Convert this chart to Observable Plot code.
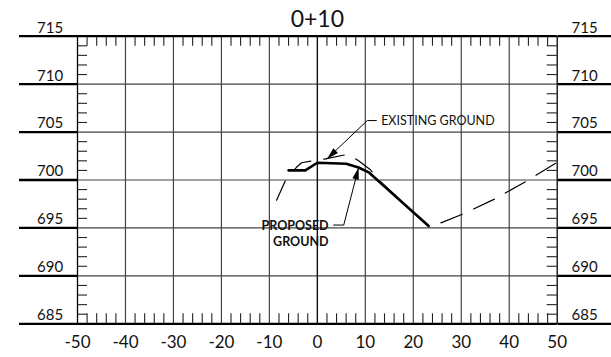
<!DOCTYPE html>
<html>
<head>
<meta charset="utf-8">
<script src="https://cdn.jsdelivr.net/npm/d3@7"></script>
<script src="https://cdn.jsdelivr.net/npm/@observablehq/plot@0.6"></script>
<style>
  html, body { margin: 0; padding: 0; background: #fff; }
  #chart svg { display: block; }
</style>
</head>
<body>
<div id="chart"></div>
<script>
// ---- data ----
const title = "0+10";
const xMajor = [-50, -40, -30, -20, -10, 0, 10, 20, 30, 40, 50];
const xLabels = ["-50", "-40", "-30", "-20", "-10", "0", "10", "20", "30", "40", "50"];
const yMajor = [685, 690, 695, 700, 705, 710, 715];
const yLabels = ["685", "690", "695", "700", "705", "710", "715"];

// proposed ground (offset, elevation)
const proposedX = [-6.0, -2.5, 0.0, 6.0, 8.6, 10.7, 23.2];
const proposedY = [701.0, 701.0, 701.8, 701.7, 701.3, 700.8, 695.2];

// existing ground (offset, elevation)
const existingX = [-8.5, -6.6, -4.4, -3.3, -1.1, 1.7, 6.5, 8.6, 11.0, 13.0, 23.3, 25.6, 30.1, 36.7, 43.3, 50.0];
const existingY = [697.9, 700.0, 701.3, 701.8, 702.0, 702.2, 702.7, 702.0, 701.1, 699.9, 695.1, 695.5, 696.4, 697.95, 699.8, 701.85];

// annotation leaders
const existingLeaderX = [12.3, 10.4, 2.0];
const existingLeaderY = [706.2, 706.2, 702.2];
const proposedLeaderX = [3.4, 5.5, 8.6];
const proposedLeaderY = [695.3, 695.3, 701.3];
const existingLabel = {x: 13.3, y: 706.2, text: "EXISTING GROUND"};
const proposedLabel = {x: 2.35, y: 694.45, text: "PROPOSED\nGROUND"};

// ---- build ----
const proposed = proposedX.map((x, i) => ({x, y: proposedY[i]}));
const existing = existingX.map((x, i) => ({x, y: existingY[i]}));
const exLeader = existingLeaderX.map((x, i) => ({x, y: existingLeaderY[i]}));
const prLeader = proposedLeaderX.map((x, i) => ({x, y: proposedLeaderY[i]}));
const xMinor = d3.range(-48, 49, 2).filter(d => d % 10 !== 0);
const yMinor = d3.range(686, 715, 1).filter(d => d % 5 !== 0);

const W = 611, H = 357;
const mL = 77, mR = 54.3, mT = 35.7, mB = 33.7;
const plotW = W - mL - mR, plotH = H - mT - mB;

function filledArrow(color, context) {
  const m = d3.create("svg:marker")
    .attr("viewBox", "-12 -4 12 8")
    .attr("markerWidth", 12)
    .attr("markerHeight", 8)
    .attr("markerUnits", "userSpaceOnUse")
    .attr("orient", "auto")
    .attr("overflow", "visible")
    .attr("fill", "black")
    .attr("stroke", "none");
  m.append("path").attr("d", "M-12,-3.3L0,0L-12,3.3Z");
  return m.node();
}

const font = "Lato, 'Open Sans', sans-serif";

const chart = Plot.plot({
  width: W, height: H,
  marginLeft: mL, marginRight: mR, marginTop: mT, marginBottom: mB,
  style: {fontFamily: font, background: "#fff", color: "black", overflow: "visible"},
  x: {domain: [-50, 50], axis: null},
  y: {domain: [685, 715], axis: null},
  marks: [
    // grid
    Plot.ruleX(xMajor.filter(d => d !== -50 && d !== 50 && d !== 0), {stroke: "#444", strokeWidth: 1.2}),
    Plot.ruleY(yMajor.filter(d => d !== 685 && d !== 715), {stroke: "#444", strokeWidth: 1.2}),
    Plot.ruleX([0], {stroke: "#111", strokeWidth: 1.4}),
    // minor inner ticks
    Plot.tickX(xMinor, {x: d => d, insetBottom: plotH - 10, stroke: "#222", strokeWidth: 1.1}),
    Plot.tickX(xMinor, {x: d => d, insetTop: plotH - 10, stroke: "#222", strokeWidth: 1.1}),
    Plot.tickY(yMinor, {y: d => d, insetRight: plotW - 10, stroke: "#222", strokeWidth: 1.1}),
    Plot.tickY(yMinor, {y: d => d, insetLeft: plotW - 10, stroke: "#222", strokeWidth: 1.1}),
    // frame
    Plot.frame({stroke: "black", strokeWidth: 1.3}),
    Plot.ruleY([685, 715], {stroke: "black", strokeWidth: 2.3}),
    // extended major lines outside the frame
    Plot.axisY(yMajor, {anchor: "left", tickSize: 58, tickFormat: () => "", label: null, stroke: "black", strokeWidth: 2.3}),
    Plot.axisY(yMajor, {anchor: "right", tickSize: 56, tickFormat: () => "", label: null, stroke: "black", strokeWidth: 2.3}),
    // y labels
    Plot.text(yMajor, {y: d => d, text: (d, i) => yLabels[i], frameAnchor: "left", dx: -14.3, textAnchor: "end", lineAnchor: "bottom", dy: -3.6, fontSize: 15, fill: "#111"}),
    Plot.text(yMajor, {y: d => d, text: (d, i) => yLabels[i], frameAnchor: "right", dx: 14.3, textAnchor: "start", lineAnchor: "bottom", dy: -3.6, fontSize: 15, fill: "#111"}),
    // x labels
    Plot.text(xMajor, {x: d => d, text: (d, i) => xLabels[i], frameAnchor: "bottom", lineAnchor: "top", dy: 12, fontSize: 17, fill: "#111"}),
    // title
    Plot.text([title], {frameAnchor: "top", lineAnchor: "bottom", dy: -9.5, fontSize: 23, fill: "#111"}),
    // existing ground (dashed)
    Plot.line(existing.filter(d => d.x <= 23.3), {x: "x", y: "y", stroke: "black", strokeWidth: 1.2, strokeDasharray: "21,13"}),
    Plot.line(existing.filter(d => d.x >= 23.3), {x: "x", y: "y", stroke: "black", strokeWidth: 1.2, strokeDasharray: "23,12.5", strokeDashoffset: 23}),
    // proposed ground
    Plot.line(proposed, {x: "x", y: "y", stroke: "black", strokeWidth: 2.6, strokeLinejoin: "miter"}),
    // leaders
    Plot.line(exLeader, {x: "x", y: "y", stroke: "black", strokeWidth: 1, markerEnd: filledArrow}),
    Plot.line(prLeader, {x: "x", y: "y", stroke: "black", strokeWidth: 1, markerEnd: filledArrow}),
    // annotation text
    Plot.text([existingLabel], {x: "x", y: "y", text: "text", textAnchor: "start", fontSize: 12.5, fill: "#111"}),
    Plot.text([proposedLabel], {x: "x", y: "y", text: "text", textAnchor: "end", fontWeight: "bold", fontSize: 12.5, lineHeight: 1.25, fill: "#111"})
  ]
});
document.getElementById("chart").append(chart);
</script>
</body>
</html>
